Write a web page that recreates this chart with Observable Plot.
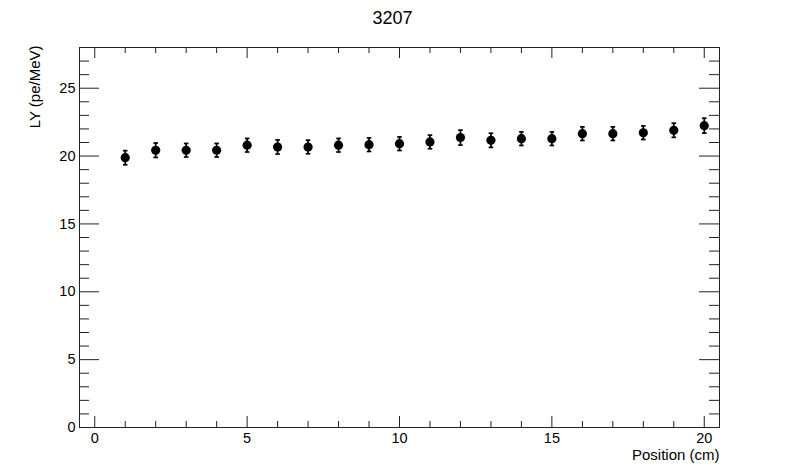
<!DOCTYPE html>
<html>
<head>
<meta charset="utf-8">
<script src="https://cdn.jsdelivr.net/npm/d3@7"></script>
<script src="https://cdn.jsdelivr.net/npm/@observablehq/plot@0.6"></script>
<style>
  html, body { margin: 0; padding: 0; background: #fff; }
  svg { display: block; }
</style>
</head>
<body>
<div id="chart"></div>
<script>
const title = "3207";
const xLabel = "Position (cm)";
const yLabel = "LY (pe/MeV)";
const positions = [1, 2, 3, 4, 5, 6, 7, 8, 9, 10, 11, 12, 13, 14, 15, 16, 17, 18, 19, 20];
const ly = [19.88, 20.43, 20.43, 20.43, 20.80, 20.67, 20.67, 20.80, 20.84, 20.91,
            21.04, 21.36, 21.16, 21.28, 21.28, 21.65, 21.65, 21.72, 21.90, 22.24];
const lyErr = [0.52, 0.53, 0.50, 0.50, 0.50, 0.52, 0.50, 0.50, 0.50, 0.50,
               0.50, 0.55, 0.52, 0.50, 0.50, 0.50, 0.50, 0.50, 0.52, 0.55];
const xMajor = [0, 5, 10, 15, 20];
const yMajor = [0, 5, 10, 15, 20, 25];
const xDomain = [-0.5, 20.5];
const yDomain = [0, 28];

const xMinor = d3.range(0, 21).filter(v => v % 5 !== 0);
const yMinor = d3.range(1, 28).filter(v => v % 5 !== 0);

const data = positions.map((x, i) => ({x, y: ly[i], lo: ly[i] - lyErr[i], hi: ly[i] + lyErr[i]}));

const W = 800, H = 475;
const mL = 79, mR = 81, mT = 47, mB = 48;
const pw = W - mL - mR, ph = H - mT - mB;
const font = "'Liberation Sans', Arial, Helvetica, sans-serif";

const capSymbol = {
  draw(ctx) { ctx.moveTo(-2.3, 0); ctx.lineTo(2.3, 0); }
};

const xMajLen = 11, xMinLen = 6, yMajLen = 20, yMinLen = 10;
const axisColor = "#222";

const chart = Plot.plot({
  width: W, height: H,
  marginLeft: mL, marginRight: mR, marginTop: mT, marginBottom: mB,
  style: {fontFamily: font, fontSize: "14px", color: "#000", background: "#fff"},
  x: {domain: xDomain},
  y: {domain: yDomain},
  marks: [
    Plot.axisX({ticks: xMajor, tickSize: 0, tickPadding: 5, label: null, fontSize: 14.5, tickFormat: d => String(d)}),
    Plot.axisY({ticks: yMajor, tickSize: 0, tickPadding: 4, label: null, fontSize: 14.5, tickFormat: d => String(d)}),
    // bottom ticks
    Plot.tickX(xMajor, {x: d => d, insetTop: ph - xMajLen, stroke: axisColor, strokeWidth: 1}),
    Plot.tickX(xMinor, {x: d => d, insetTop: ph - xMinLen, stroke: axisColor, strokeWidth: 1}),
    // top ticks
    Plot.tickX(xMajor, {x: d => d, insetBottom: ph - xMajLen, stroke: axisColor, strokeWidth: 1}),
    Plot.tickX(xMinor, {x: d => d, insetBottom: ph - xMinLen, stroke: axisColor, strokeWidth: 1}),
    // left ticks
    Plot.tickY(yMajor, {y: d => d, insetRight: pw - yMajLen, stroke: axisColor, strokeWidth: 1}),
    Plot.tickY(yMinor, {y: d => d, insetRight: pw - yMinLen, stroke: axisColor, strokeWidth: 1}),
    // right ticks
    Plot.tickY(yMajor, {y: d => d, insetLeft: pw - yMajLen, stroke: axisColor, strokeWidth: 1}),
    Plot.tickY(yMinor, {y: d => d, insetLeft: pw - yMinLen, stroke: axisColor, strokeWidth: 1}),
    Plot.frame({stroke: axisColor, strokeWidth: 1}),
    // error bars
    Plot.ruleX(data, {x: "x", y1: "lo", y2: "hi", stroke: "#000", strokeWidth: 1.7}),
    Plot.dot(data, {x: "x", y: "lo", symbol: capSymbol, stroke: "#000", strokeWidth: 1.7, fill: "none"}),
    Plot.dot(data, {x: "x", y: "hi", symbol: capSymbol, stroke: "#000", strokeWidth: 1.7, fill: "none"}),
    Plot.dot(data, {x: "x", y: "y", r: 4.6, fill: "#000", stroke: "none"}),
    // titles
    Plot.text([title], {frameAnchor: "top", dx: -7, dy: -29, text: d => d, fontSize: 18, lineAnchor: "middle", fill: "#000"}),
    Plot.text([xLabel], {frameAnchor: "bottom-right", dx: 0, dy: 28, text: d => d, fontSize: 15, textAnchor: "end", lineAnchor: "middle", fill: "#000"}),
    Plot.text([yLabel], {frameAnchor: "top-left", dx: -44, dy: -2, rotate: -90, text: d => d, fontSize: 15, textAnchor: "end", lineAnchor: "middle", fill: "#000"})
  ]
});
document.getElementById("chart").appendChild(chart);
</script>
</body>
</html>
